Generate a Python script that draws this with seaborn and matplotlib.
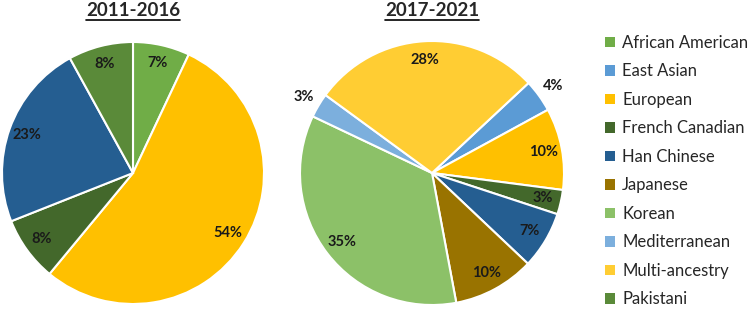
import numpy as np
import matplotlib
matplotlib.use("Agg")
import matplotlib.pyplot as plt
from matplotlib.patches import Patch
from matplotlib.lines import Line2D
import seaborn as sns

categories = ["African American", "East Asian", "European", "French Canadian",
              "Han Chinese", "Japanese", "Korean", "Mediterranean",
              "Multi-ancestry", "Pakistani"]
share_2011_2016 = [7, 0, 54, 8, 23, 0, 0, 0, 0, 8]
share_2017_2021 = [0, 4, 10, 3, 7, 10, 35, 3, 28, 0]
titles = ["2011-2016", "2017-2021"]

colors = sns.color_palette(["#70AD47", "#5B9BD5", "#FFC000", "#43682B", "#255E91",
                            "#997300", "#8CC168", "#7CAFDD", "#FFCD33", "#5A8A39"])

sns.set_style("white")
plt.rcParams['font.family'] = ['Lato', 'DejaVu Sans']

W, H = 749, 313
fig = plt.figure(figsize=(W / 100, H / 100), dpi=100)

def px_axes(cx, cy, r):
    return fig.add_axes([(cx - r) / W, (H - cy - r) / H, 2 * r / W, 2 * r / H])

def draw_pie(ax, shares, start, outside=()):
    idx = [i for i, v in enumerate(shares) if v > 0]
    vals = [shares[i] for i in idx]
    wedges, _ = ax.pie(vals, colors=[colors[i] for i in idx], startangle=start,
                       counterclock=False, radius=1,
                       wedgeprops=dict(edgecolor="white", linewidth=1.5))
    for w, i in zip(wedges, idx):
        mid = np.deg2rad((w.theta1 + w.theta2) / 2)
        r = 1.13 if categories[i] in outside else 0.86
        ax.text(r * np.cos(mid), r * np.sin(mid), f"{shares[i]}%",
                ha="center", va="center", fontsize=10.5, fontweight="bold",
                color="#1a1a1a")
    ax.set_xlim(-1, 1)
    ax.set_ylim(-1, 1)
    ax.set_aspect("equal")
    ax.axis("off")

ax1 = px_axes(133, 173, 131)
draw_pie(ax1, share_2011_2016, 90)
ax2 = px_axes(432, 173, 132)
draw_pie(ax2, share_2017_2021, 43, outside=("East Asian", "Mediterranean"))

# titles, underlined
title_txt = []
for t, cx in zip(titles, [133, 432]):
    title_txt.append(fig.text(cx / W, 1 - 10 / H, t, ha="center", va="center",
                              fontsize=13.5, fontweight="bold"))
fig.canvas.draw()
renderer = fig.canvas.get_renderer()
for t in title_txt:
    bb = t.get_window_extent(renderer).transformed(fig.transFigure.inverted())
    y = bb.y0 - 1.5 / H
    fig.add_artist(Line2D([bb.x0, bb.x1], [y, y], color="black", lw=1.2,
                          transform=fig.transFigure))

handles = [Patch(facecolor=c, edgecolor="none") for c in colors]
fig.legend(handles, categories, loc="upper left",
           bbox_to_anchor=(598 / W, 1 - 28 / H), frameon=False,
           fontsize=12, handlelength=0.6, handleheight=0.6,
           handletextpad=0.45, labelspacing=0.75, borderaxespad=0)

fig.savefig("out.png", dpi=100)
